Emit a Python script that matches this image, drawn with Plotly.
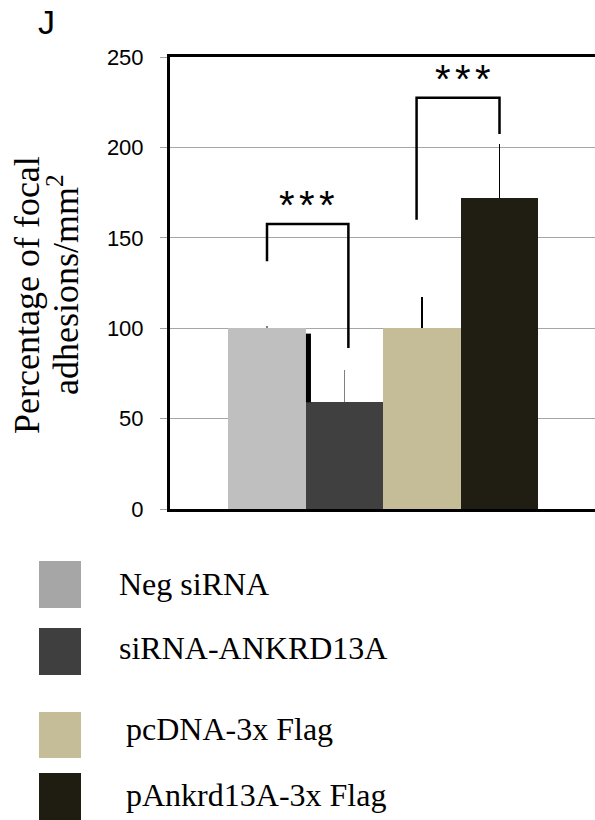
import plotly.graph_objects as go

# ---- data ----
categories = ["Neg siRNA", "siRNA-ANKRD13A", "pcDNA-3x Flag", "pAnkrd13A-3x Flag"]
values = [100, 59, 100, 172]
errors_up = [1, 18, 17, 30]
bar_colors = ["#BFBFBF", "#404040", "#C4BD97", "#201E13"]
legend_colors = ["#A6A6A6", "#3F3F3F", "#C4BD97", "#1F1D12"]
err_colors = ["#808080", "#808080", "#000000", "#000000"]
y_ticks = [0, 50, 100, 150, 200, 250]
significance = ["***", "***"]

# ---- layout geometry (pixels) ----
W, H = 595, 820
L, R, T, B = 170, 595, 57, 509
x_pos = list(range(len(categories)))
x_unit = 77.5

def px2paper_x(px):
    return (px - L) / (R - L)

def px2paper_y(py):
    return (B - py) / (B - T)

fig = go.Figure()
for i, cat in enumerate(categories):
    fig.add_trace(go.Bar(
        x=[x_pos[i]], y=[values[i]], width=1.0, name=cat,
        marker=dict(color=bar_colors[i], line=dict(width=0)),
        error_y=dict(type="data", symmetric=False, array=[errors_up[i]],
                     arrayminus=[0], width=0, thickness=1.6, color=err_colors[i]),
        showlegend=False, hoverinfo="skip",
    ))

shapes = []
# stray dark edge between first two bars
shapes.append(dict(type="line", xref="x", yref="y", x0=0.535, x1=0.535, y0=values[1], y1=97,
                   line=dict(color="black", width=5)))

# significance brackets
brackets = [
    dict(x0=0.0, x1=1.05, ytop=157.6, yl=137, yr=89),
    dict(x0=1.93, x1=3.0, ytop=227.5, yl=160, yr=207.4),
]
for b in brackets:
    shapes.append(dict(type="path", xref="x", yref="y",
                       path=f"M {b['x0']},{b['yl']} L {b['x0']},{b['ytop']} L {b['x1']},{b['ytop']} L {b['x1']},{b['yr']}",
                       line=dict(color="black", width=2.5)))

annotations = []
star_pos = [(0.51, 168), (2.53, 238)]
star_step = 20 / x_unit
for s, (sx, sy) in zip(significance, star_pos):
    n = len(s)
    for k, ch in enumerate(s):
        annotations.append(dict(x=sx + (k - (n - 1) / 2) * star_step, y=sy, xref="x", yref="y",
                                text=ch, showarrow=False,
                                font=dict(family="Liberation Sans", size=40, color="black"),
                                xanchor="center", yanchor="middle"))

# panel letter
annotations.append(dict(x=px2paper_x(46), y=px2paper_y(22), xref="paper", yref="paper", text="J",
                        showarrow=False, font=dict(family="Liberation Sans", size=34, color="black"),
                        xanchor="center", yanchor="middle"))

# y-axis title (two lines)
annotations.append(dict(x=px2paper_x(27), y=px2paper_y(295), xref="paper", yref="paper",
                        text="Percentage of focal", textangle=-90, showarrow=False,
                        font=dict(family="Liberation Serif", size=36, color="black"),
                        xanchor="center", yanchor="middle"))
annotations.append(dict(x=px2paper_x(63), y=px2paper_y(285), xref="paper", yref="paper",
                        text="adhesions/mm<sup>2</sup>", textangle=-90, showarrow=False,
                        font=dict(family="Liberation Serif", size=36, color="black"),
                        xanchor="center", yanchor="middle"))

# legend (custom swatches)
legend_rows = [(561, 608, 117), (628, 675, 117), (712, 758, 124), (773, 822, 124)]
legend_text_y = [584, 648, 729, 795]
for i, cat in enumerate(categories):
    y0, y1, tx = legend_rows[i]
    shapes.append(dict(type="rect", xref="paper", yref="paper",
                       x0=px2paper_x(39), x1=px2paper_x(81),
                       y0=px2paper_y(y1), y1=px2paper_y(y0),
                       fillcolor=legend_colors[i], line=dict(width=0)))
    annotations.append(dict(x=px2paper_x(tx), y=px2paper_y(legend_text_y[i]),
                            xref="paper", yref="paper", text=cat, showarrow=False,
                            font=dict(family="Liberation Serif", size=32, color="black"),
                            xanchor="left", yanchor="middle"))

x_range = [(L - 267) / x_unit, (R - 267) / x_unit]

fig.update_layout(
    width=W, height=H,
    margin=dict(l=L, r=W - R, t=T, b=H - B),
    paper_bgcolor="white", plot_bgcolor="white",
    barmode="overlay", bargap=0,
    shapes=shapes, annotations=annotations,
    xaxis=dict(range=x_range, showticklabels=False, showgrid=False, zeroline=False,
               showline=True, mirror=True, linecolor="black", linewidth=3, ticks=""),
    yaxis=dict(range=[0, 250], tickvals=y_ticks, showgrid=True, gridcolor="#A6A6A6", gridwidth=1,
               zeroline=False, showline=True, linecolor="black", linewidth=3,
               ticks="outside", ticklen=7, tickcolor="#A0A0A0", tickwidth=1,
               ticklabelstandoff=12,
               tickfont=dict(family="Liberation Sans", size=22, color="black")),
)

fig.write_html("out.html", config={"displayModeBar": False},
               post_script="document.body.style.margin='0px';document.body.style.overflow='hidden';")
